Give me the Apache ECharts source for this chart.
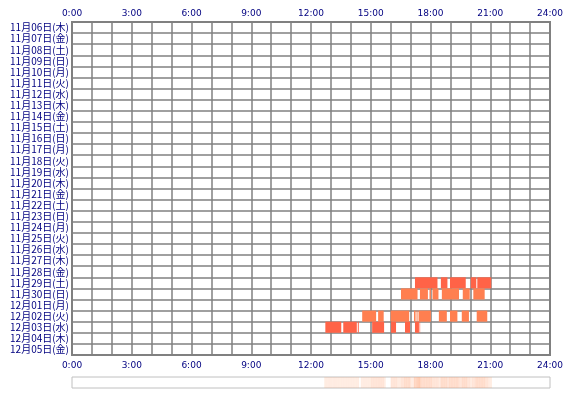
<!DOCTYPE html>
<html lang="ja">
<head>
<meta charset="utf-8">
<script src="https://cdn.jsdelivr.net/npm/echarts@6/dist/echarts.min.js"></script>
<style>html,body{margin:0;background:#fff}#chart{width:570px;height:400px}</style>
</head>
<body>
<div id="chart"></div>
<script>
// 日付ラベル
var days = ['11月06日(木)','11月07日(金)','11月08日(土)','11月09日(日)','11月10日(月)','11月11日(火)','11月12日(水)',
    '11月13日(木)','11月14日(金)','11月15日(土)','11月16日(日)','11月17日(月)','11月18日(火)','11月19日(水)',
    '11月20日(木)','11月21日(金)','11月22日(土)','11月23日(日)','11月24日(月)','11月25日(火)','11月26日(水)',
    '11月27日(木)','11月28日(金)','11月29日(土)','11月30日(日)','12月01日(月)','12月02日(火)','12月03日(水)',
    '12月04日(木)','12月05日(金)'];
var hourTicks = ['0:00','3:00','6:00','9:00','12:00','15:00','18:00','21:00','24:00'];

// 時間帯 [開始時, 終了時]
var nov29 = [[17.22,18.35],[18.52,18.85],[18.98,19.77],[20.02,20.3],[20.35,21.05]];
var nov30 = [[16.52,17.35],[17.47,17.87],[17.95,18.02],[18.1,18.4],[18.57,19.43],[19.62,19.97],[20.15,20.72]];
var dec02 = [[14.57,15.27],[15.37,15.65],[16.0,16.93],[17.17,17.25],[17.3,17.35],[17.4,18.02],[18.42,18.82],[18.98,19.35],[19.57,19.93],[20.32,20.85]];
var dec03 = [[12.72,13.52],[13.62,14.3],[14.35,14.4],[15.07,15.67],[16.02,16.27],[16.72,16.97],[17.22,17.42],[17.45,17.48]];

var rows = [
    { day: '11月29日(土)', spans: nov29, color: '#ff6347' },
    { day: '11月30日(日)', spans: nov30, color: '#ff7f50' },
    { day: '12月02日(火)', spans: dec02, color: '#ff7f50' },
    { day: '12月03日(水)', spans: dec03, color: '#ff6347' }
];

var barData = [];
rows.forEach(function (r) {
    r.spans.forEach(function (s) {
        barData.push({ value: [s[0], s[1], r.day], itemStyle: { color: r.color } });
    });
});

// 下の帯：各時間の重なり数
var heat = [];
for (var m = 0; m < 24 * 12; m++) {
    var t0 = m / 12, t1 = (m + 1) / 12, c = 0;
    rows.forEach(function (r) {
        r.spans.forEach(function (s) { if (s[0] < t1 && s[1] > t0) c++; });
    });
    if (c > 0) heat.push([t0, t1, c]);
}

var lab = { color: '#000080', fontSize: 9, fontFamily: 'DejaVu Sans' };
var chart = echarts.init(document.getElementById('chart'));
chart.setOption({
    animation: false,
    grid: [
        { left: 72, right: 20, top: 22, bottom: 45, show: true, borderColor: '#808080', borderWidth: 2 },
        { left: 72, right: 20, top: 377, height: 11, show: true, borderColor: '#c0c0c0', borderWidth: 1 }
    ],
    xAxis: [
        { type: 'value', gridIndex: 0, position: 'top', min: 0, max: 24, interval: 1,
          axisLine: { show: false }, axisTick: { show: false },
          splitLine: { lineStyle: { color: '#808080', width: 1.5 } },
          axisLabel: Object.assign({ margin: 4, formatter: function (v) { return v % 3 === 0 ? hourTicks[v / 3] : ''; } }, lab) },
        { type: 'value', gridIndex: 0, position: 'bottom', min: 0, max: 24, interval: 1,
          axisLine: { show: false }, axisTick: { show: false }, splitLine: { show: false },
          axisLabel: Object.assign({ margin: 6, formatter: function (v) { return v % 3 === 0 ? hourTicks[v / 3] : ''; } }, lab) },
        { type: 'value', gridIndex: 1, min: 0, max: 24, show: false }
    ],
    yAxis: [
        { type: 'category', gridIndex: 0, data: days, inverse: true,
          axisLine: { show: false }, axisTick: { show: false },
          splitLine: { show: true, interval: 0, lineStyle: { color: '#808080', width: 1.5 } },
          axisLabel: Object.assign({ margin: 3, interval: 0 }, lab, { fontSize: 10, fontFamily: 'Noto Sans CJK JP' }) },
        { type: 'value', gridIndex: 1, min: 0, max: 1, show: false }
    ],
    series: [
        { type: 'custom', xAxisIndex: 0, yAxisIndex: 0, data: barData, z: 1,
          renderItem: function (params, api) {
              var a = api.coord([api.value(0), api.value(2)]);
              var b = api.coord([api.value(1), api.value(2)]);
              var h = api.size([0, 1])[1];
              return { type: 'rect', shape: { x: a[0], y: a[1] - h / 2, width: b[0] - a[0], height: h },
                       style: { fill: api.visual('color') } };
          } },
        { type: 'custom', xAxisIndex: 2, yAxisIndex: 1, data: heat,
          renderItem: function (params, api) {
              var a = api.coord([api.value(0), 1]);
              var b = api.coord([api.value(1), 0]);
              return { type: 'rect', shape: { x: a[0], y: a[1], width: b[0] - a[0], height: b[1] - a[1] },
                       style: { fill: '#ff9f70', opacity: 0.12 + 0.08 * api.value(2) } };
          } }
    ]
});
</script>
</body>
</html>
